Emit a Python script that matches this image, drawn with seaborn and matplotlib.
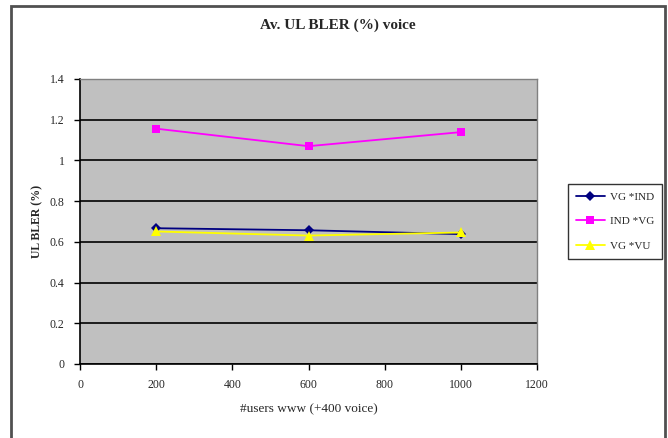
import matplotlib
matplotlib.use("Agg")
import matplotlib.pyplot as plt
import seaborn as sns
import pandas as pd
from matplotlib.patches import Rectangle

users_www = [200, 600, 1000]
vg_ind = [0.667, 0.657, 0.638]
ind_vg = [1.156, 1.070, 1.139]
vg_vu = [0.651, 0.631, 0.646]
series_names = ["VG *IND", "IND *VG", "VG *VU"]
x_ticks = [0, 200, 400, 600, 800, 1000, 1200]
x_tick_labels = ["0", "200", "400", "600", "800", "1000", "1200"]
y_ticks = [0, 0.2, 0.4, 0.6, 0.8, 1.0, 1.2, 1.4]
y_tick_labels = ["0", "0.2", "0.4", "0.6", "0.8", "1", "1.2", "1.4"]

df = pd.DataFrame({
    "users": users_www * 3,
    "bler": vg_ind + ind_vg + vg_vu,
    "series": [series_names[0]] * 3 + [series_names[1]] * 3 + [series_names[2]] * 3,
})

sns.set_theme(style="white")
plt.rcParams["font.family"] = ["Liberation Serif", "DejaVu Serif"]

fig = plt.figure(figsize=(6.68, 4.38), dpi=100)
W, H = 668, 438
ax = fig.add_axes([80 / W, 1 - 364 / H, (537 - 80) / W, (364 - 79) / H])
ax.set_facecolor("#C0C0C0")

palette = {series_names[0]: "#000080", series_names[1]: "#FF00FF", series_names[2]: "#FFFF00"}
markers = {series_names[0]: "D", series_names[1]: "s", series_names[2]: "^"}
sizes = {series_names[0]: 5, series_names[1]: 6, series_names[2]: 7}
for name in series_names:
    sub = df[df["series"] == name]
    sns.lineplot(data=sub, x="users", y="bler", ax=ax, color=palette[name],
                 marker=markers[name], markersize=sizes[name], markeredgewidth=0,
                 linewidth=1.3, label=name, legend=False)

ax.set_xlim(0, 1200)
ax.set_ylim(0, 1.4)
ax.set_xticks(x_ticks)
ax.set_xticklabels(x_tick_labels, fontsize=8.5)
ax.set_yticks(y_ticks)
ax.set_yticklabels(y_tick_labels, fontsize=8.5)
ax.yaxis.grid(True, color="black", linewidth=1.2)
ax.set_axisbelow(True)
for side in ["top", "right"]:
    ax.spines[side].set_color("#808080")
    ax.spines[side].set_linewidth(1)
for side in ["left", "bottom"]:
    ax.spines[side].set_color("black")
    ax.spines[side].set_linewidth(1.2)
ax.tick_params(axis="both", direction="out", length=4, width=1, color="black",
               left=True, bottom=True, pad=7)
ax.set_xlabel("#users www (+400 voice)", fontsize=9.5, labelpad=9)
ax.set_ylabel("UL BLER (%)", fontsize=8.5, fontweight="bold", labelpad=5)

fig.text(338 / W, 1 - 25 / H, "Av. UL BLER (%) voice", ha="center", va="center",
         fontsize=11, fontweight="bold")

handles, labels = ax.get_legend_handles_labels()
leg = fig.legend(handles, labels, loc="upper left",
                 bbox_to_anchor=(568 / W, 1 - 184 / H), fontsize=8,
                 frameon=True, fancybox=False, edgecolor="black",
                 handlelength=2.6, borderpad=0.7, labelspacing=1.35,
                 handletextpad=0.5, borderaxespad=0)
leg.get_frame().set_linewidth(1.0)

fig.patches.append(Rectangle((11 / W, -0.05), (665 - 11) / W, (1 - 6 / H) + 0.05,
                             transform=fig.transFigure, fill=False,
                             edgecolor="#505050", linewidth=2))

fig.savefig("out.png", dpi=100)
